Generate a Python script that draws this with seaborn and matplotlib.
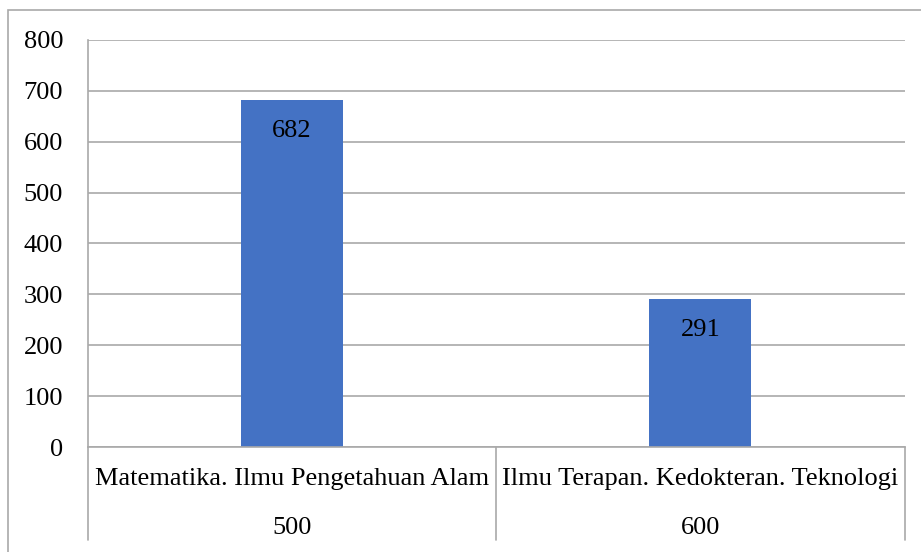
import seaborn as sns
import pandas as pd
import matplotlib.pyplot as plt
from matplotlib.patches import Rectangle

# data
categories = ['Matematika. Ilmu Pengetahuan Alam', 'Ilmu Terapan. Kedokteran. Teknologi']
group_codes = ['500', '600']
counts = [682, 291]

BAR_COLOR = '#4472C4'
LINE_COLOR = '#A9A9A9'
FS = 19

sns.set_style('white')
plt.rcParams['font.family'] = ['Liberation Serif', 'DejaVu Serif']
plt.rcParams['text.color'] = 'black'
plt.rcParams['ytick.color'] = 'black'

df = pd.DataFrame({'category': categories, 'count': counts})

fig = plt.figure(figsize=(9.21, 5.52), dpi=100)
W, H = 921, 552
ax = fig.add_axes([88 / W, (H - 447) / H, (904.5 - 88) / W, (447 - 40) / H])

sns.barplot(data=df, x='category', y='count', color=BAR_COLOR, width=0.25,
            saturation=1, linewidth=0, ax=ax)

ax.set_ylim(0, 800)
ax.set_xlim(-0.5, 1.5)
ax.set_yticks(range(0, 801, 100))
ax.yaxis.grid(True, color=LINE_COLOR, linewidth=1.2)
ax.set_axisbelow(True)
ax.set_xticks([])
ax.set_xlabel('')
ax.set_ylabel('')
ax.tick_params(axis='y', length=0, pad=18, labelsize=FS, labelcolor='black')

for side in ['top', 'right']:
    ax.spines[side].set_visible(False)
ax.spines['left'].set_color(LINE_COLOR)
ax.spines['bottom'].set_color(LINE_COLOR)
ax.spines['left'].set_linewidth(1.2)
ax.spines['bottom'].set_linewidth(1.2)

# value labels inside the bars
for i, v in enumerate(counts):
    ax.text(i, v - 61, str(v), ha='center', va='center', fontsize=FS, color='black')

# two-level category axis in the Excel style
trans = ax.get_xaxis_transform()
for x in [-0.5, 0.5, 1.5]:
    ax.plot([x, x], [0, -0.2285], transform=trans, color=LINE_COLOR,
            linewidth=1.2, clip_on=False)
for i, (cat, code) in enumerate(zip(categories, group_codes)):
    ax.text(i, -0.079, cat, transform=trans, ha='center', va='center',
            fontsize=FS, color='black')
    ax.text(i, -0.2, code, transform=trans, ha='center', va='center',
            fontsize=FS, color='black')

# outer chart border
fig.patches.append(Rectangle((8 / W, -0.1), 1.2, (H - 10) / H + 0.1,
                             transform=fig.transFigure, fill=False,
                             edgecolor=LINE_COLOR, linewidth=1.2))

fig.savefig('out.png', dpi=100)
